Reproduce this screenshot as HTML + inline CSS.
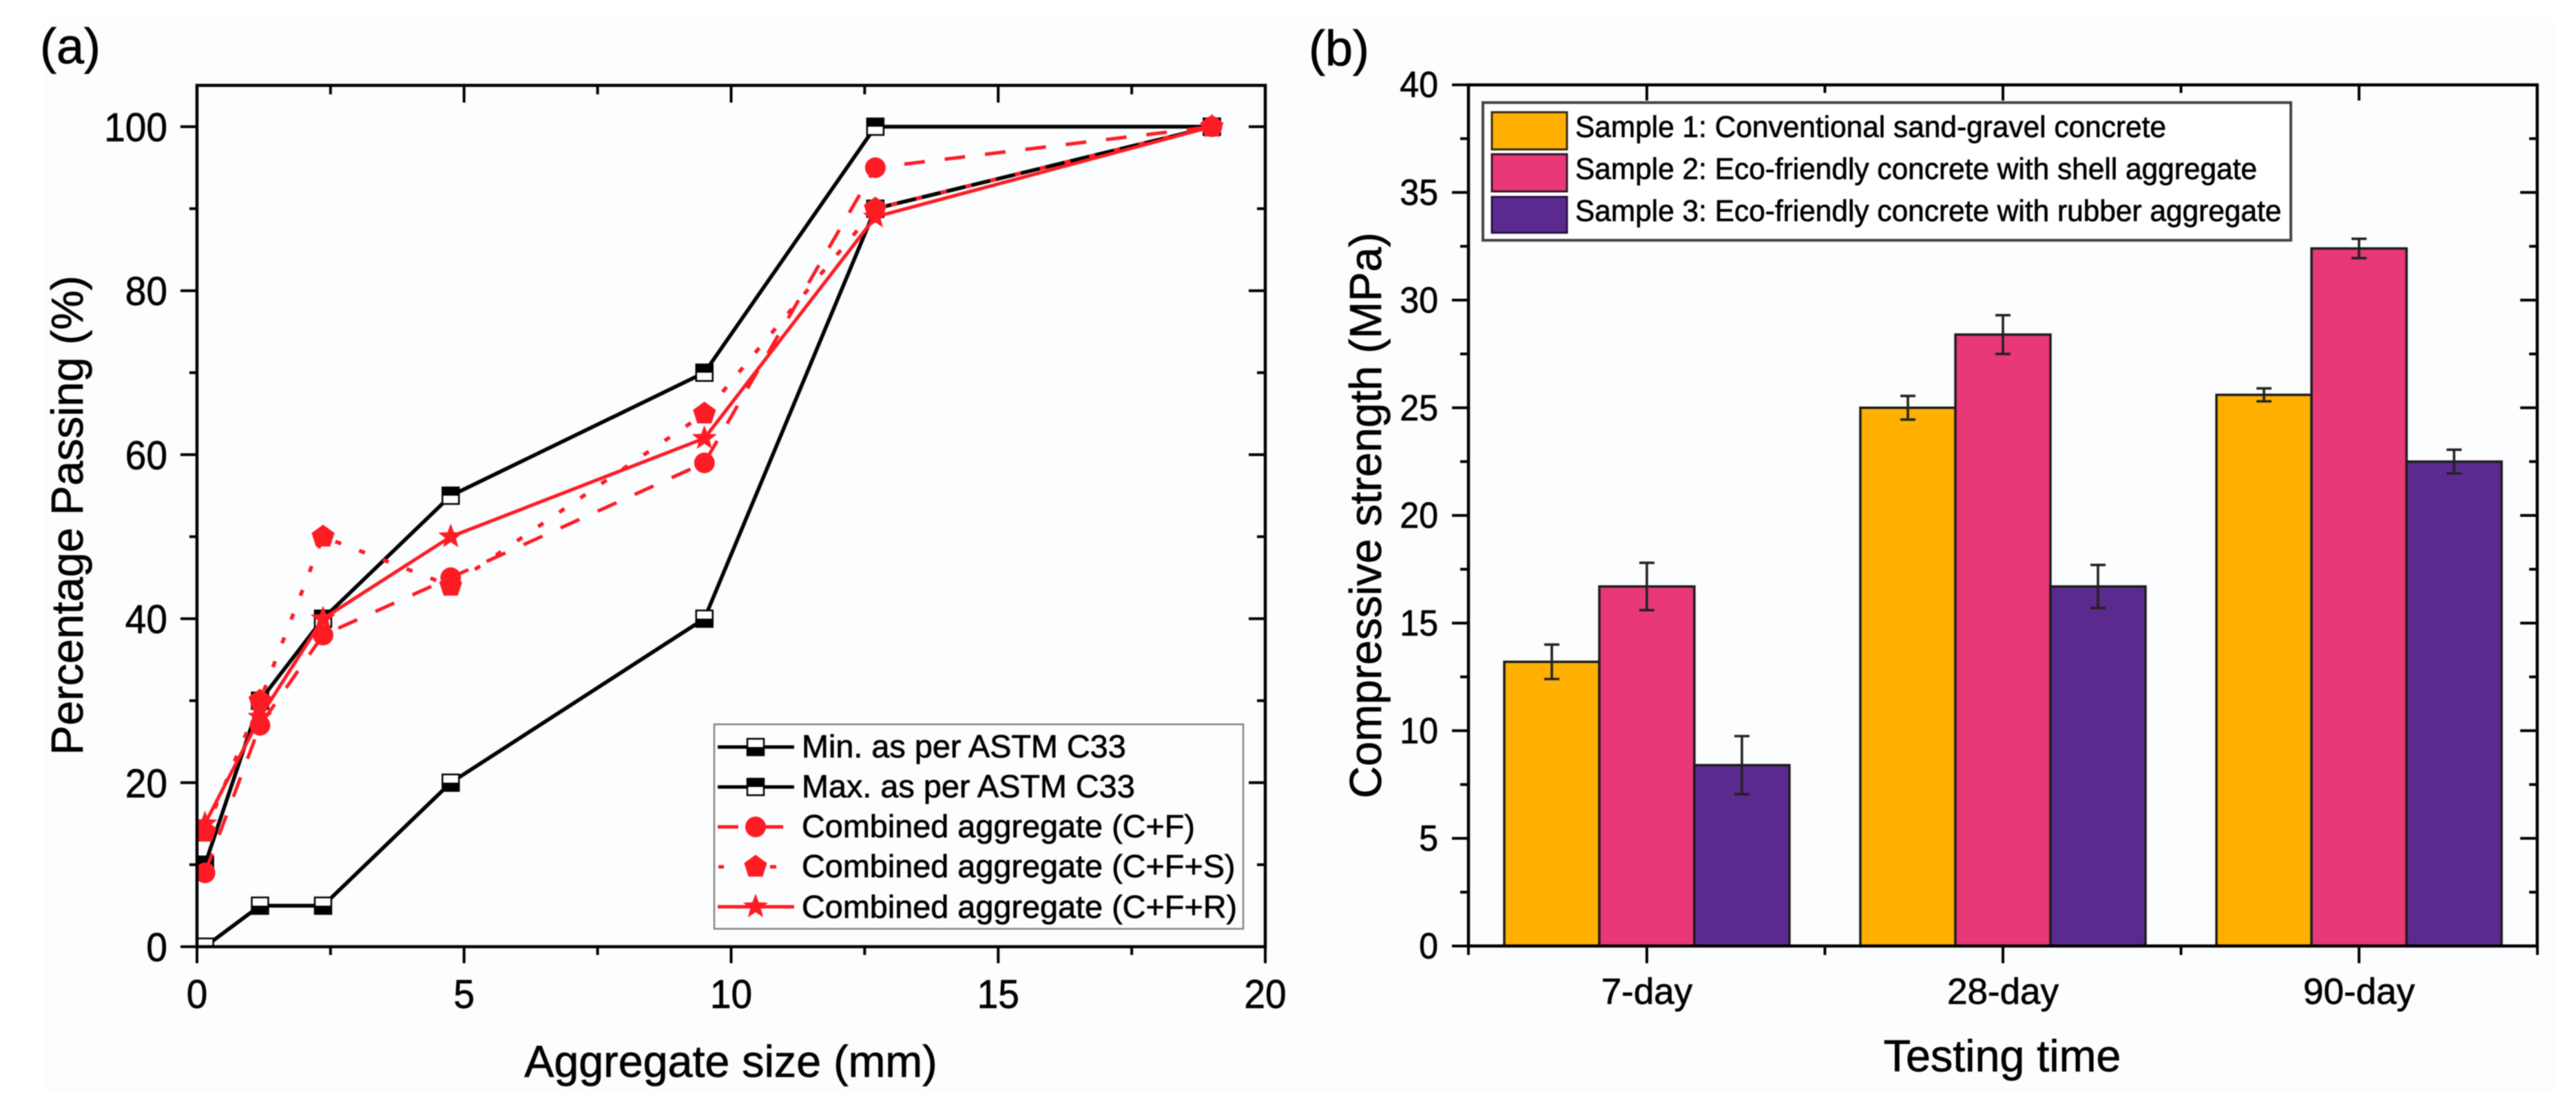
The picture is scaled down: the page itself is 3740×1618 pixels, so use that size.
<!DOCTYPE html>
<html lang="en">
<head>
<meta charset="utf-8">
<title>Aggregate grading and compressive strength</title>
<style>
html,body{margin:0;padding:0;background:#fff;}
svg{display:block;font-family:"Liberation Sans",Arial,sans-serif;filter:blur(0.7px);}
text{stroke:#000;stroke-width:0.7px;}
</style>
</head>
<body>
<svg id="figure" xmlns="http://www.w3.org/2000/svg" width="3740" height="1618" viewBox="0 0 3740 1618">
  <defs>
    <clipPath id="plot-a-clip"><rect x="286" y="124" width="1551" height="1251"/></clipPath>
  </defs>
  <rect x="0" y="0" width="3740" height="1618" fill="#ffffff"/>
  <rect x="63" y="32" width="3648" height="1553" fill="#fbfdfe"/>

  <g id="chart-a">
    <text x="58" y="92" font-size="72">(a)</text>
    <g id="series-a" clip-path="url(#plot-a-clip)"></g>
    <g id="axes-a" stroke="#000" fill="none"></g>
    <g id="ticklabels-a" font-size="58" fill="#000"></g>
    <text x="1061" y="1564" font-size="64.6" text-anchor="middle">Aggregate size (mm)</text>
    <text transform="translate(120 748.5) rotate(-90)" font-size="64.6" text-anchor="middle">Percentage Passing (%)</text>

    <g id="legend-a">
      <rect x="1037" y="1052" width="768" height="297" fill="#fbfdfe" stroke="#858585" stroke-width="2.5"/>
      <g id="legend-a-keys"></g>
      <g font-size="46.8" fill="#000">
        <text x="1164" y="1100">Min. as per ASTM C33</text>
        <text x="1164" y="1158">Max. as per ASTM C33</text>
        <text x="1164" y="1216">Combined aggregate (C+F)</text>
        <text x="1164" y="1274">Combined aggregate (C+F+S)</text>
        <text x="1164" y="1333">Combined aggregate (C+F+R)</text>
      </g>
    </g>
  </g>

  <g id="chart-b">
    <text x="1900" y="95" font-size="72">(b)</text>
    <g id="bars-b"></g>
    <g id="axes-b" stroke="#000" fill="none"></g>
    <g id="ticklabels-b" font-size="53" fill="#000"></g>
    <text x="2907" y="1556" font-size="64.6" text-anchor="middle">Testing time</text>
    <text transform="translate(2005 748.5) rotate(-90)" font-size="64.6" text-anchor="middle">Compressive strength (MPa)</text>

    <g id="legend-b">
      <rect x="2153" y="149" width="1173" height="200" fill="#ffffff" stroke="#444" stroke-width="4"/>
      <rect x="2166" y="163" width="109" height="54" fill="#ffb000" stroke="#3a2a10" stroke-width="3"/>
      <rect x="2166" y="224" width="109" height="54" fill="#e83878" stroke="#3a1428" stroke-width="3"/>
      <rect x="2166" y="286" width="109" height="52" fill="#5b2a8f" stroke="#2a1444" stroke-width="3"/>
      <g font-size="44" fill="#000">
        <text transform="translate(2287 199) scale(0.964 1)">Sample 1: Conventional sand-gravel concrete</text>
        <text transform="translate(2287 260) scale(0.964 1)">Sample 2: Eco-friendly concrete with shell aggregate</text>
        <text transform="translate(2287 321) scale(0.964 1)">Sample 3: Eco-friendly concrete with rubber aggregate</text>
      </g>
    </g>
  </g>
</svg>

<script>
/* ---------- chart (a) data ---------- */
const sizesA = [0.15, 1.18, 2.36, 4.75, 9.5, 12.7, 19];
const minAstm = [0, 5, 5, 20, 40, 90, 100];
const maxAstm = [10, 30, 40, 55, 70, 100, 100];
const combinedCF = [9, 27, 38, 45, 59, 95, 100];
const combinedCFS = [14, 30, 50, 44, 65, 90, 100];
const combinedCFR = [15, 28, 40, 50, 62, 89, 100];
const xTicksA = [0, 5, 10, 15, 20];
const xMinorA = [2.5, 7.5, 12.5, 17.5];
const yTicksA = [0, 20, 40, 60, 80, 100];
const yMinorA = [10, 30, 50, 70, 90];

/* ---------- chart (b) data ---------- */
const categoriesB = ['7-day', '28-day', '90-day'];
const sample1 = [13.2, 25, 25.6];
const sample2 = [16.7, 28.4, 32.4];
const sample3 = [8.4, 16.7, 22.5];
const sample1Err = [0.8, 0.55, 0.3];
const sample2Err = [1.1, 0.9, 0.45];
const sample3Err = [1.35, 1.0, 0.55];
const yTicksB = [0, 5, 10, 15, 20, 25, 30, 35, 40];
const yMinorB = [2.5, 7.5, 12.5, 17.5, 22.5, 27.5, 32.5, 37.5];

/* ---------- helpers ---------- */
const NS = 'http://www.w3.org/2000/svg';
const RED = '#fe1c24';
function make(tag, parent, attrs) {
  const el = document.createElementNS(NS, tag);
  for (const k in attrs) el.setAttribute(k, attrs[k]);
  parent.appendChild(el);
  return el;
}
function polar(cx, cy, n, r, r2) {
  const pts = [];
  const total = r2 ? n * 2 : n;
  for (let i = 0; i < total; i++) {
    const a = -Math.PI / 2 + i * 2 * Math.PI / total;
    const rad = (r2 && i % 2) ? r2 : r;
    pts.push((cx + rad * Math.cos(a)).toFixed(1) + ',' + (cy + rad * Math.sin(a)).toFixed(1));
  }
  return pts.join(' ');
}
function squareMarker(parent, cx, cy, blackOnTop) {
  const g = make('g', parent, {});
  
  
  make('rect', g, {x: cx - 12, y: cy - 12, width: 24, height: 24, fill: '#fff', stroke: '#000', 'stroke-width': 2.5});
  make('rect', g, {x: cx - 13, y: blackOnTop ? cy - 13 : cy, width: 26, height: 13, fill: '#000'});
}
function redMarker(parent, kind, cx, cy) {
  let m;
  if (kind === 'circle') m = make('circle', parent, {cx: cx, cy: cy, r: 15, fill: RED});
  if (kind === 'pentagon') m = make('polygon', parent, {points: polar(cx, cy, 5, 17.5), fill: RED});
  if (kind === 'star') m = make('polygon', parent, {points: polar(cx, cy, 5, 19, 8), fill: RED});
  
  
}
function tickLine(parent, x1, y1, x2, y2, w) {
  const t = make('line', parent, {x1: x1, y1: y1, x2: x2, y2: y2, 'stroke-width': w});
  
  
}

/* ---------- chart (a) ---------- */
const xA = v => 286 + v * 77.55;
const yA = v => 1375 - v * 11.91;
const seriesLayer = document.getElementById('series-a');

function drawLine(vals, name, color, width, dash) {
  const pts = vals.map((v, i) => xA(sizesA[i]).toFixed(1) + ',' + yA(v).toFixed(1)).join(' ');
  const attrs = {points: pts, fill: 'none', stroke: color, 'stroke-width': width, 'stroke-linejoin': 'round'};
  if (dash) attrs['stroke-dasharray'] = dash;
  const p = make('polyline', seriesLayer, attrs);
  
  
}
drawLine(minAstm, 'line-min-astm', '#000', 5.5);
drawLine(maxAstm, 'line-max-astm', '#000', 5.5);
minAstm.forEach((v, i) => squareMarker(seriesLayer, xA(sizesA[i]), yA(v), false));
maxAstm.forEach((v, i) => squareMarker(seriesLayer, xA(sizesA[i]), yA(v), true));
drawLine(combinedCF, 'line-combined-cf', RED, 5, '30 29');
drawLine(combinedCFS, 'line-combined-cfs', RED, 5.5, '9 28');
drawLine(combinedCFR, 'line-combined-cfr', RED, 5);
combinedCF.forEach((v, i) => redMarker(seriesLayer, 'circle', xA(sizesA[i]), yA(v)));
combinedCFS.forEach((v, i) => redMarker(seriesLayer, 'pentagon', xA(sizesA[i]), yA(v)));
combinedCFR.forEach((v, i) => redMarker(seriesLayer, 'star', xA(sizesA[i]), yA(v)));

const axesA = document.getElementById('axes-a');
const frameA = make('rect', axesA, {x: 286, y: 124, width: 1551, height: 1251, 'stroke-width': 4.5});


xTicksA.forEach(v => {
  tickLine(axesA, xA(v), 1375, xA(v), 1399, 4);
  tickLine(axesA, xA(v), 124, xA(v), 149, 4);
});
xMinorA.forEach(v => {
  tickLine(axesA, xA(v), 1375, xA(v), 1387, 4);
  tickLine(axesA, xA(v), 124, xA(v), 137, 4);
});
yTicksA.forEach(v => {
  tickLine(axesA, 262, yA(v), 286, yA(v), 4);
  tickLine(axesA, 1813, yA(v), 1837, yA(v), 4);
});
yMinorA.forEach(v => {
  tickLine(axesA, 275, yA(v), 286, yA(v), 4);
  tickLine(axesA, 1825, yA(v), 1837, yA(v), 4);
});
const labelsA = document.getElementById('ticklabels-a');
xTicksA.forEach(v => {
  const t = make('text', labelsA, {x: xA(v), y: 1464, 'text-anchor': 'middle', textLength: String(v).length * 30.6, lengthAdjust: 'spacingAndGlyphs'});
  
  
  t.textContent = v;
});
yTicksA.forEach(v => {
  const t = make('text', labelsA, {x: 243, y: yA(v) + 21, 'text-anchor': 'end', textLength: String(v).length * 30.6, lengthAdjust: 'spacingAndGlyphs'});
  
  
  t.textContent = v;
});

/* legend (a) keys */
const keysA = document.getElementById('legend-a-keys');
function keyLine(x1, x2, y, color) {
  const l = make('line', keysA, {x1: x1, y1: y, x2: x2, y2: y, stroke: color, 'stroke-width': 5});
  
  
}
keyLine(1042, 1153, 1085, '#000');
squareMarker(keysA, 1097, 1085, false);
keyLine(1042, 1153, 1143, '#000');
squareMarker(keysA, 1097, 1143, true);
keyLine(1042, 1072, 1201, RED);
keyLine(1110, 1137, 1201, RED);
redMarker(keysA, 'circle', 1097, 1201);
keyLine(1043, 1051, 1259, RED);
keyLine(1118, 1127, 1259, RED);
redMarker(keysA, 'pentagon', 1097, 1259);
keyLine(1042, 1153, 1317, RED);
redMarker(keysA, 'star', 1097, 1317);

/* ---------- chart (b) ---------- */
const catB = i => 2391 + i * 517;
const barB = 138;
const yB = v => 1374 - v * 31.27;
const barsLayer = document.getElementById('bars-b');
function drawBars(vals, errs, offset, color, name) {
  vals.forEach((v, i) => {
    const left = catB(i) + offset * barB - barB / 2;
    const r = make('rect', barsLayer, {x: left, y: yB(v), width: barB, height: 1374 - yB(v), fill: color, stroke: '#1c1c1c', 'stroke-width': 3.5});
    
    
  });
  vals.forEach((v, i) => {
    const cx = catB(i) + offset * barB;
    const g = make('g', barsLayer, {stroke: '#222', 'stroke-width': 3.6});
    
    
    make('line', g, {x1: cx, y1: yB(v + errs[i]), x2: cx, y2: yB(v - errs[i])});
    make('line', g, {x1: cx - 11, y1: yB(v + errs[i]), x2: cx + 11, y2: yB(v + errs[i])});
    make('line', g, {x1: cx - 11, y1: yB(v - errs[i]), x2: cx + 11, y2: yB(v - errs[i])});
  });
}
drawBars(sample1, sample1Err, -1, '#ffb000', 'bar-sample-1');
drawBars(sample2, sample2Err, 0, '#e83878', 'bar-sample-2');
drawBars(sample3, sample3Err, 1, '#5b2a8f', 'bar-sample-3');

const axesB = document.getElementById('axes-b');
const frameB = make('rect', axesB, {x: 2132, y: 123.3, width: 1551.7, height: 1250.7, 'stroke-width': 4.5});


categoriesB.forEach((c, i) => {
  tickLine(axesB, catB(i), 1374, catB(i), 1399, 4);
  tickLine(axesB, catB(i), 123, catB(i), 146, 4);
  if (i < categoriesB.length - 1) {
    tickLine(axesB, catB(i) + 258.5, 1374, catB(i) + 258.5, 1387, 4);
    tickLine(axesB, catB(i) + 258.5, 123, catB(i) + 258.5, 135, 4);
  }
});
tickLine(axesB, 2132, 1374, 2132, 1387, 4);
tickLine(axesB, 3684, 1374, 3684, 1387, 4);
yTicksB.forEach(v => {
  tickLine(axesB, 2108, yB(v), 2132, yB(v), 4);
  tickLine(axesB, 3659, yB(v), 3684, yB(v), 4);
});
yMinorB.forEach(v => {
  tickLine(axesB, 2120, yB(v), 2132, yB(v), 4);
  tickLine(axesB, 3672, yB(v), 3684, yB(v), 4);
});
const labelsB = document.getElementById('ticklabels-b');
categoriesB.forEach((c, i) => {
  const t = make('text', labelsB, {x: catB(i), y: 1458, 'text-anchor': 'middle'});
  
  
  t.textContent = c;
});
yTicksB.forEach(v => {
  const t = make('text', labelsB, {x: 2088, y: yB(v) + 18, 'text-anchor': 'end', textLength: String(v).length * 27.8, lengthAdjust: 'spacingAndGlyphs'});
  
  
  t.textContent = v;
});

/* legend sits above top ticks */
const chartB = document.getElementById('chart-b');
chartB.appendChild(document.getElementById('legend-b'));
</script>
</body>
</html>
